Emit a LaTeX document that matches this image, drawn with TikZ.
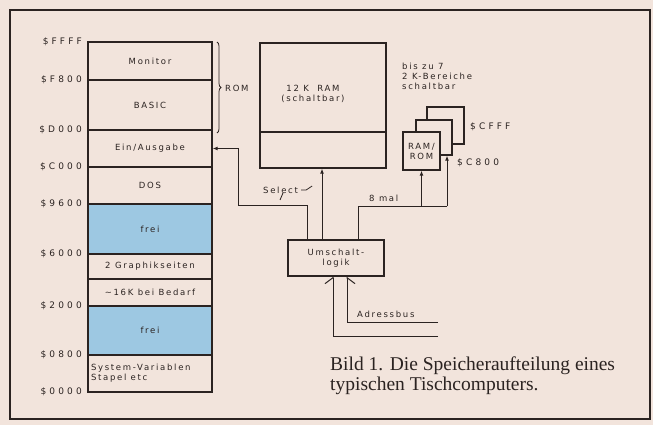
\documentclass[tikz,border=0pt]{standalone}
\usepackage{fontspec}
\setmainfont{DejaVu Sans}
\newfontfamily\captionfont{Liberation Serif}
\usepackage{tikz}
\usetikzlibrary{positioning,arrows.meta,calc,decorations.pathreplacing}
\definecolor{PaperBg}{HTML}{F2E4DC}
\definecolor{FreeBlue}{HTML}{9DC8E2}
\definecolor{InkDark}{HTML}{2B2321}

\begin{document}
\begin{tikzpicture}[x=1pt, y=-1pt, color=InkDark,
    every node/.style={font=\fontsize{8.5}{10}\selectfont\addfontfeature{LetterSpace=20}, text=InkDark, inner sep=0pt},
    memblock/.style={draw, line width=1.3pt, minimum width=124pt},
    addrlabel/.style={anchor=east, font=\fontsize{9}{10}\selectfont\addfontfeature{LetterSpace=35}},
    unitbox/.style={draw, line width=1.3pt, fill=PaperBg},
    wire/.style={line width=1pt},
    arr/.style={wire, -{Latex[length=5pt, width=4pt]}}]
  \useasboundingbox (0,0) rectangle (653,425);
  \fill[PaperBg] (0,0) rectangle (653,425);
  \draw[line width=2pt] (10,10) rectangle (650,419);

  % memory map
  \foreach \nm/\txt/\ya/\yb/\fc in {
      mon/Monitor/42/80/PaperBg,
      bas/BASIC/80/130/PaperBg,
      io/{Ein/Ausgabe}/130/167/PaperBg,
      dos/DOS/167/204/PaperBg,
      freiA/frei/204/254/FreeBlue,
      graf/{2 Graphikseiten}/254/279/PaperBg,
      bedarf/{\textasciitilde16K bei Bedarf}/279/306/PaperBg,
      freiB/frei/306/355/FreeBlue%
    }{
    \pgfmathsetmacro\ym{(\ya+\yb)/2}
    \node[memblock, fill=\fc, minimum height=\yb-\ya] (\nm) at (150,\ym) {\txt};
  }
  \node[memblock, minimum height=37pt, text width=118pt, align=left] (sys) at (150,373.5)
    {System-Variablen\\Stapel\enspace etc};

  \foreach \adr/\yy in {FFFF/42, F800/80, D000/130, C000/167, 9600/204,
      6000/254, 2000/306, 0800/355, 0000/392}{
    \node[addrlabel] (a\adr) at (82,\yy) {\$\adr};
  }

  \draw[line width=0.8pt, decorate, decoration={brace, amplitude=4pt}] (217,42) -- (217,133);
  \node[anchor=west] (rom) at (225,88) {ROM};

  % 12K RAM and switching logic
  \node[unitbox, minimum width=126pt, minimum height=125pt] (ram) at (323,105.5) {};
  \draw[line width=1.3pt] (ram.west |- 0,132) -- (ram.east |- 0,132);
  \node[align=center] (ramtxt) at (313,94) {12 K\quad RAM\\(schaltbar)};

  \node[unitbox, minimum width=96pt, minimum height=36pt, align=center] (umsch) at (336,258)
    {Umschalt-\\logik};

  % RAM/ROM cards
  \node[unitbox, minimum width=37pt, minimum height=37pt] (cardC) at (445.5,125.5) {};
  \node[unitbox, minimum width=36pt, minimum height=35pt] (cardB) at (434,137.5) {};
  \node[unitbox, minimum width=37pt, minimum height=38pt, align=center] (cardA) at (421.5,151)
    {RAM/\\ROM};
  \node[anchor=north west, align=left] (bis) at (402,63) {bis zu 7\\2 K-Bereiche\\schaltbar};
  \node[addrlabel, anchor=west] (cfff) at (470,127) {\$CFFF};
  \node[addrlabel, anchor=west] (c800) at (457,163) {\$C800};

  % connections
  \draw[arr] (umsch.north -| 307,0) |- (238,205) |- (io.east);
  \draw[line width=0.8pt] (280,200) -- (283,193);
  \draw[arr] (umsch.north -| 322,0) -- (ram.south -| 322,0);
  \node[anchor=west] (sel) at (263,190) {Select};
  \draw[line width=0.7pt] (sel.east) ++(3,0) -- ++(5,0) -- ++(6,-4);

  \coordinate (busR) at (447,206);
  \draw[wire] (umsch.north -| 358,0) |- (busR);
  \draw[arr] (cardA.south |- busR) -- (cardA.south);
  \draw[arr] (busR) -- (cardB.south -| busR);
  \node[anchor=south west] (mal) at (369,202) {8 mal};

  \coordinate (busA) at (438,322);
  \coordinate (busB) at (438,336);
  \draw[wire, -{Straight Barb[harpoon, swap, length=6pt, width=16pt]}] (busA) -| (umsch.south -| 347,0);
  \draw[wire, -{Straight Barb[harpoon, length=6pt, width=16pt]}] (busB) -| (umsch.south -| 333,0);
  \node[anchor=south west] (adr) at (357,318) {Adressbus};

  \node[anchor=north west, align=left, font=\captionfont\fontsize{19.5}{20}\selectfont] (cap) at (330,357)
    {Bild 1. Die Speicheraufteilung eines\\typischen Tischcomputers.};
\end{tikzpicture}
\end{document}
